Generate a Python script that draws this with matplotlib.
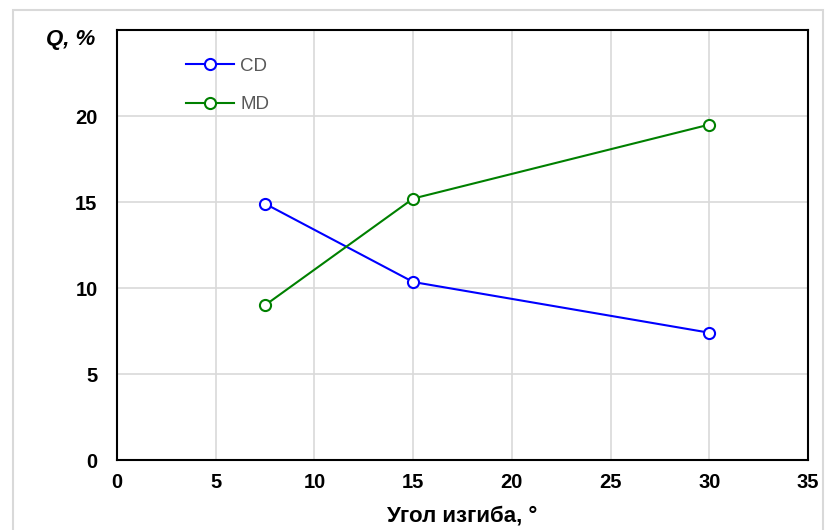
import matplotlib
matplotlib.use("Agg")
import matplotlib.pyplot as plt
from matplotlib.patches import Rectangle

plt.rcParams['font.family'] = ['Liberation Sans', 'DejaVu Sans']

angles = [7.5, 15, 30]
cd_values = [14.9, 10.35, 7.4]
md_values = [9.0, 15.2, 19.5]
x_ticks = [0, 5, 10, 15, 20, 25, 30, 35]
y_ticks = [0, 5, 10, 15, 20]

fig = plt.figure(figsize=(8.28, 5.30), dpi=100)
fig.patches.append(Rectangle((13 / 828, -0.01), (823 - 13) / 828, (525) / 530,
                             transform=fig.transFigure, fill=False,
                             edgecolor='#d9d9d9', linewidth=1.5))

ax = fig.add_axes([117 / 828, 70 / 530, (808 - 117) / 828, (460 - 30) / 530])
ax.plot(angles, cd_values, color='#0000ff', lw=1.5, marker='o', ms=8,
        mfc='white', mec='#0000ff', mew=1.5, label='CD')
ax.plot(angles, md_values, color='#008000', lw=1.5, marker='o', ms=8,
        mfc='white', mec='#008000', mew=1.5, label='MD')

ax.set_xlim(0, 35)
ax.set_ylim(0, 25)
ax.set_xticks(x_ticks)
ax.set_yticks(y_ticks + [25])
ax.set_yticklabels([str(v) for v in y_ticks] + [''])
ax.grid(True, color='#d9d9d9', lw=1.2)
ax.set_axisbelow(True)
for s in ax.spines.values():
    s.set_color('black')
    s.set_linewidth(1.5)
ax.tick_params(length=0, labelsize=14.5, pad=9)
ax.tick_params(axis='y', pad=14)
for lab in ax.get_xticklabels() + ax.get_yticklabels():
    lab.set_fontweight('bold')

ax.set_xlabel('Угол изгиба, °', fontsize=16, fontweight='bold', labelpad=10)
fig.text(95 / 828, 1 - 40 / 530, 'Q, %', fontsize=16, fontweight='bold',
         fontstyle='italic', ha='right', va='center')

leg = ax.legend(loc='upper left', bbox_to_anchor=(0.075, 0.975), frameon=False,
                handlelength=2.6, labelspacing=1.15, fontsize=13.5,
                handletextpad=0.3)
for t in leg.get_texts():
    t.set_color('#595959')

fig.savefig('out.png', dpi=100)
